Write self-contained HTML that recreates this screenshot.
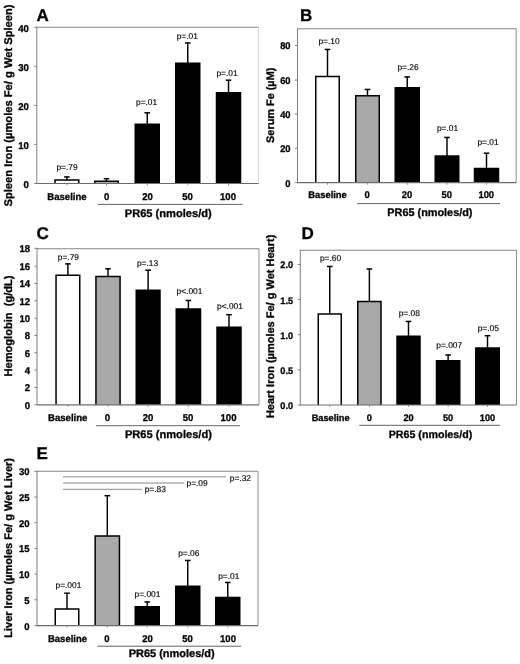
<!DOCTYPE html>
<html><head><meta charset="utf-8"><title>Figure</title>
<style>
html,body{margin:0;padding:0;background:#fff;}
body{width:520px;height:664px;overflow:hidden;}
svg{display:block;}
text{font-family:"Liberation Sans",sans-serif;fill:#000;text-rendering:geometricPrecision;}
.tk{font-weight:bold;font-size:9.9px;stroke:#000;stroke-width:0.3px;}
.pv{font-size:8.4px;fill:#000;stroke:#000;stroke-width:0.15px;}
.ti{font-weight:bold;font-size:11.1px;stroke:#000;stroke-width:0.3px;}
.lt{font-weight:bold;font-size:17px;stroke:#000;stroke-width:0.3px;}
</style></head>
<body>
<svg width="520" height="664" viewBox="0 0 520 664">
<rect x="0" y="0" width="520" height="664" fill="#fff"/>
<defs><filter id="soft" x="0" y="0" width="520" height="664" filterUnits="userSpaceOnUse"><feGaussianBlur stdDeviation="0.4"/></filter></defs>
<g filter="url(#soft)">
<!-- Panel A -->
<g>
<line x1="258.5" y1="27.3" x2="258.5" y2="183.5" stroke="#d9d9d9" stroke-width="1"/>
<line x1="36.8" y1="27.3" x2="258.5" y2="27.3" stroke="#858585" stroke-width="1.1"/>
<line x1="66.88" y1="176.75" x2="66.88" y2="180.25" stroke="#000" stroke-width="1.45"/><line x1="64.08" y1="176.95" x2="69.67" y2="176.95" stroke="#000" stroke-width="1.5"/>
<path d="M55 183.5V180H78.75V183.5" fill="#fff" stroke="#000" stroke-width="1.5"/>
<line x1="106.5" y1="178.5" x2="106.5" y2="181.5" stroke="#000" stroke-width="1.45"/><line x1="103.7" y1="178.7" x2="109.3" y2="178.7" stroke="#000" stroke-width="1.5"/>
<path d="M94.75 183.5V181.25H118.25V183.5" fill="#a9a9a9" stroke="#000" stroke-width="1.5"/>
<line x1="147.25" y1="112.6" x2="147.25" y2="124.5" stroke="#000" stroke-width="1.45"/><line x1="144.45" y1="112.8" x2="150.05" y2="112.8" stroke="#000" stroke-width="1.5"/>
<rect x="134.5" y="123.5" width="25.5" height="60" fill="#000"/>
<line x1="187.75" y1="42.75" x2="187.75" y2="63.5" stroke="#000" stroke-width="1.45"/><line x1="184.95" y1="42.95" x2="190.55" y2="42.95" stroke="#000" stroke-width="1.5"/>
<rect x="175" y="62.5" width="25.5" height="121" fill="#000"/>
<line x1="228.5" y1="80" x2="228.5" y2="93" stroke="#000" stroke-width="1.45"/><line x1="225.7" y1="80.2" x2="231.3" y2="80.2" stroke="#000" stroke-width="1.5"/>
<rect x="215.75" y="92" width="25.5" height="91.5" fill="#000"/>
<line x1="36.8" y1="26.8" x2="36.8" y2="184" stroke="#808080" stroke-width="1"/>
<line x1="36.8" y1="183.5" x2="258.5" y2="183.5" stroke="#6c6c6c" stroke-width="1.2"/>
<line x1="34.2" y1="27.3" x2="36.8" y2="27.3" stroke="#808080" stroke-width="1"/><text class="tk" style="font-size:9.9px" transform="translate(28.8,31.6) scale(0.97,1)" text-anchor="end">40</text>
<line x1="34.2" y1="66.3" x2="36.8" y2="66.3" stroke="#808080" stroke-width="1"/><text class="tk" style="font-size:9.9px" transform="translate(28.8,70.6) scale(0.97,1)" text-anchor="end">30</text>
<line x1="34.2" y1="105.3" x2="36.8" y2="105.3" stroke="#808080" stroke-width="1"/><text class="tk" style="font-size:9.9px" transform="translate(28.8,109.6) scale(0.97,1)" text-anchor="end">20</text>
<line x1="34.2" y1="144.4" x2="36.8" y2="144.4" stroke="#808080" stroke-width="1"/><text class="tk" style="font-size:9.9px" transform="translate(28.8,148.7) scale(0.97,1)" text-anchor="end">10</text>
<line x1="34.2" y1="183.5" x2="36.8" y2="183.5" stroke="#808080" stroke-width="1"/><text class="tk" style="font-size:9.9px" transform="translate(28.8,187.8) scale(0.97,1)" text-anchor="end">0</text>
<line x1="66.88" y1="183.5" x2="66.88" y2="185.5" stroke="#909090" stroke-width="1"/><line x1="106.5" y1="183.5" x2="106.5" y2="185.5" stroke="#909090" stroke-width="1"/><line x1="147.25" y1="183.5" x2="147.25" y2="185.5" stroke="#909090" stroke-width="1"/><line x1="187.75" y1="183.5" x2="187.75" y2="185.5" stroke="#909090" stroke-width="1"/><line x1="228.5" y1="183.5" x2="228.5" y2="185.5" stroke="#909090" stroke-width="1"/>
<text class="tk" style="font-size:9.9px" transform="translate(67,200.35) scale(0.97,1)" text-anchor="middle">Baseline</text>
<text class="tk" style="font-size:9.9px" transform="translate(106.75,200.35) scale(0.97,1)" text-anchor="middle">0</text>
<text class="tk" style="font-size:9.9px" transform="translate(147.5,200.35) scale(0.97,1)" text-anchor="middle">20</text>
<text class="tk" style="font-size:9.9px" transform="translate(187.5,200.35) scale(0.97,1)" text-anchor="middle">50</text>
<text class="tk" style="font-size:9.9px" transform="translate(228,200.35) scale(0.97,1)" text-anchor="middle">100</text>
<line x1="97.8" y1="204.4" x2="242.5" y2="204.4" stroke="#3c3c3c" stroke-width="0.8"/>
<text class="ti" style="font-size:11.1px" x="168.25" y="216.9" text-anchor="middle">PR65 (nmoles/d)</text>
<text class="ti" style="font-size:11.17px" text-anchor="middle" transform="translate(12,105.5) rotate(-90)">Spleen Iron (µmoles Fe/ g Wet Spleen)</text>
<text class="pv" x="67" y="169.7" text-anchor="middle">p=.79</text>
<text class="pv" x="146.6" y="105.2" text-anchor="middle">p=.01</text>
<text class="pv" x="187.25" y="38.95" text-anchor="middle">p=.01</text>
<text class="pv" x="227" y="75.7" text-anchor="middle">p=.01</text>

<text class="lt" x="36.6" y="20.7">A</text>
</g>
<!-- Panel B -->
<g>
<line x1="516.2" y1="28.7" x2="516.2" y2="182.7" stroke="#8c8c8c" stroke-width="1"/>
<line x1="297.5" y1="28.7" x2="516.2" y2="28.7" stroke="#858585" stroke-width="1.1"/>
<line x1="327.5" y1="49.25" x2="327.5" y2="76.75" stroke="#000" stroke-width="1.45"/><line x1="324.7" y1="49.45" x2="330.3" y2="49.45" stroke="#000" stroke-width="1.5"/>
<path d="M315.75 182.7V76.5H339.25V182.7" fill="#fff" stroke="#000" stroke-width="1.5"/>
<line x1="367.5" y1="89.25" x2="367.5" y2="96" stroke="#000" stroke-width="1.45"/><line x1="364.7" y1="89.45" x2="370.3" y2="89.45" stroke="#000" stroke-width="1.5"/>
<path d="M355.75 182.7V95.75H379.25V182.7" fill="#a9a9a9" stroke="#000" stroke-width="1.5"/>
<line x1="407.25" y1="76.75" x2="407.25" y2="88" stroke="#000" stroke-width="1.45"/><line x1="404.45" y1="76.95" x2="410.05" y2="76.95" stroke="#000" stroke-width="1.5"/>
<rect x="394.5" y="87" width="25.5" height="95.7" fill="#000"/>
<line x1="447" y1="137.25" x2="447" y2="156.25" stroke="#000" stroke-width="1.45"/><line x1="444.2" y1="137.45" x2="449.8" y2="137.45" stroke="#000" stroke-width="1.5"/>
<rect x="434.5" y="155.25" width="25" height="27.45" fill="#000"/>
<line x1="486.5" y1="153" x2="486.5" y2="168.75" stroke="#000" stroke-width="1.45"/><line x1="483.7" y1="153.2" x2="489.3" y2="153.2" stroke="#000" stroke-width="1.5"/>
<rect x="473.75" y="167.75" width="25.5" height="14.95" fill="#000"/>
<line x1="297.5" y1="28.2" x2="297.5" y2="183.2" stroke="#808080" stroke-width="1"/>
<line x1="297.5" y1="182.7" x2="516.2" y2="182.7" stroke="#6c6c6c" stroke-width="1.2"/>
<line x1="294.9" y1="45.5" x2="297.5" y2="45.5" stroke="#808080" stroke-width="1"/><text class="tk" style="font-size:9.7px" transform="translate(290.6,49.4) scale(0.97,1)" text-anchor="end">80</text>
<line x1="294.9" y1="80" x2="297.5" y2="80" stroke="#808080" stroke-width="1"/><text class="tk" style="font-size:9.7px" transform="translate(290.6,83.9) scale(0.97,1)" text-anchor="end">60</text>
<line x1="294.9" y1="114" x2="297.5" y2="114" stroke="#808080" stroke-width="1"/><text class="tk" style="font-size:9.7px" transform="translate(290.6,117.9) scale(0.97,1)" text-anchor="end">40</text>
<line x1="294.9" y1="148.2" x2="297.5" y2="148.2" stroke="#808080" stroke-width="1"/><text class="tk" style="font-size:9.7px" transform="translate(290.6,152.1) scale(0.97,1)" text-anchor="end">20</text>
<line x1="294.9" y1="182.7" x2="297.5" y2="182.7" stroke="#808080" stroke-width="1"/><text class="tk" style="font-size:9.7px" transform="translate(290.6,186.6) scale(0.97,1)" text-anchor="end">0</text>
<line x1="327.5" y1="182.7" x2="327.5" y2="184.7" stroke="#909090" stroke-width="1"/><line x1="367.5" y1="182.7" x2="367.5" y2="184.7" stroke="#909090" stroke-width="1"/><line x1="407.25" y1="182.7" x2="407.25" y2="184.7" stroke="#909090" stroke-width="1"/><line x1="447" y1="182.7" x2="447" y2="184.7" stroke="#909090" stroke-width="1"/><line x1="486.5" y1="182.7" x2="486.5" y2="184.7" stroke="#909090" stroke-width="1"/>
<text class="tk" style="font-size:9.7px" transform="translate(327.5,198.2) scale(0.97,1)" text-anchor="middle">Baseline</text>
<text class="tk" style="font-size:9.7px" transform="translate(367,198.2) scale(0.97,1)" text-anchor="middle">0</text>
<text class="tk" style="font-size:9.7px" transform="translate(407,198.2) scale(0.97,1)" text-anchor="middle">20</text>
<text class="tk" style="font-size:9.7px" transform="translate(446.75,198.2) scale(0.97,1)" text-anchor="middle">50</text>
<text class="tk" style="font-size:9.7px" transform="translate(486.25,198.2) scale(0.97,1)" text-anchor="middle">100</text>
<line x1="357" y1="203.6" x2="500" y2="203.6" stroke="#3c3c3c" stroke-width="0.8"/>
<text class="ti" style="font-size:10.88px" x="429.9" y="216.35" text-anchor="middle">PR65 (nmoles/d)</text>
<text class="ti" style="font-size:10.9px" text-anchor="middle" transform="translate(273.7,105.3) rotate(-90)">Serum Fe (µM)</text>
<text class="pv" x="329" y="43.7" text-anchor="middle">p=.10</text>
<text class="pv" x="408" y="69.7" text-anchor="middle">p=.26</text>
<text class="pv" x="447.5" y="131.2" text-anchor="middle">p=.01</text>
<text class="pv" x="488" y="145.45" text-anchor="middle">p=.01</text>

<text class="lt" x="300" y="20.7">B</text>
</g>
<!-- Panel C -->
<g>
<line x1="259" y1="248.7" x2="259" y2="404.8" stroke="#909090" stroke-width="1"/>
<line x1="37" y1="248.7" x2="259" y2="248.7" stroke="#858585" stroke-width="1.1"/>
<line x1="67.9" y1="263.7" x2="67.9" y2="275.6" stroke="#000" stroke-width="1.45"/><line x1="65.1" y1="263.9" x2="70.7" y2="263.9" stroke="#000" stroke-width="1.5"/>
<path d="M56.05 404.8V275.35H79.75V404.8" fill="#fff" stroke="#000" stroke-width="1.5"/>
<line x1="108" y1="268.6" x2="108" y2="276.8" stroke="#000" stroke-width="1.45"/><line x1="105.2" y1="268.8" x2="110.8" y2="268.8" stroke="#000" stroke-width="1.5"/>
<path d="M95.95 404.8V276.55H120.05V404.8" fill="#a9a9a9" stroke="#000" stroke-width="1.5"/>
<line x1="148.12" y1="270" x2="148.12" y2="290.5" stroke="#000" stroke-width="1.45"/><line x1="145.32" y1="270.2" x2="150.93" y2="270.2" stroke="#000" stroke-width="1.5"/>
<rect x="135.5" y="289.5" width="25.25" height="115.3" fill="#000"/>
<line x1="188.38" y1="300.25" x2="188.38" y2="309.25" stroke="#000" stroke-width="1.45"/><line x1="185.57" y1="300.45" x2="191.18" y2="300.45" stroke="#000" stroke-width="1.5"/>
<rect x="175.5" y="308.25" width="25.75" height="96.55" fill="#000"/>
<line x1="229" y1="314.5" x2="229" y2="327.5" stroke="#000" stroke-width="1.45"/><line x1="226.2" y1="314.7" x2="231.8" y2="314.7" stroke="#000" stroke-width="1.5"/>
<rect x="216.25" y="326.5" width="25.5" height="78.3" fill="#000"/>
<line x1="37" y1="248.2" x2="37" y2="405.3" stroke="#808080" stroke-width="1"/>
<line x1="37" y1="404.8" x2="259" y2="404.8" stroke="#6c6c6c" stroke-width="1.2"/>
<line x1="34.4" y1="248.3" x2="37" y2="248.3" stroke="#808080" stroke-width="1"/><text class="tk" style="font-size:9.9px" transform="translate(30.1,252.2) scale(0.97,1)" text-anchor="end">18</text>
<line x1="34.4" y1="266.2" x2="37" y2="266.2" stroke="#808080" stroke-width="1"/><text class="tk" style="font-size:9.9px" transform="translate(30.1,270.1) scale(0.97,1)" text-anchor="end">16</text>
<line x1="34.4" y1="283.4" x2="37" y2="283.4" stroke="#808080" stroke-width="1"/><text class="tk" style="font-size:9.9px" transform="translate(30.1,287.3) scale(0.97,1)" text-anchor="end">14</text>
<line x1="34.4" y1="300.8" x2="37" y2="300.8" stroke="#808080" stroke-width="1"/><text class="tk" style="font-size:9.9px" transform="translate(30.1,304.7) scale(0.97,1)" text-anchor="end">12</text>
<line x1="34.4" y1="318.2" x2="37" y2="318.2" stroke="#808080" stroke-width="1"/><text class="tk" style="font-size:9.9px" transform="translate(30.1,322.1) scale(0.97,1)" text-anchor="end">10</text>
<line x1="34.4" y1="335.5" x2="37" y2="335.5" stroke="#808080" stroke-width="1"/><text class="tk" style="font-size:9.9px" transform="translate(30.1,339.4) scale(0.97,1)" text-anchor="end">8</text>
<line x1="34.4" y1="352.8" x2="37" y2="352.8" stroke="#808080" stroke-width="1"/><text class="tk" style="font-size:9.9px" transform="translate(30.1,356.7) scale(0.97,1)" text-anchor="end">6</text>
<line x1="34.4" y1="370.1" x2="37" y2="370.1" stroke="#808080" stroke-width="1"/><text class="tk" style="font-size:9.9px" transform="translate(30.1,374) scale(0.97,1)" text-anchor="end">4</text>
<line x1="34.4" y1="387.4" x2="37" y2="387.4" stroke="#808080" stroke-width="1"/><text class="tk" style="font-size:9.9px" transform="translate(30.1,391.3) scale(0.97,1)" text-anchor="end">2</text>
<line x1="34.4" y1="404.8" x2="37" y2="404.8" stroke="#808080" stroke-width="1"/><text class="tk" style="font-size:9.9px" transform="translate(30.1,408.7) scale(0.97,1)" text-anchor="end">0</text>
<line x1="67.9" y1="404.8" x2="67.9" y2="406.8" stroke="#909090" stroke-width="1"/><line x1="108" y1="404.8" x2="108" y2="406.8" stroke="#909090" stroke-width="1"/><line x1="148.12" y1="404.8" x2="148.12" y2="406.8" stroke="#909090" stroke-width="1"/><line x1="188.38" y1="404.8" x2="188.38" y2="406.8" stroke="#909090" stroke-width="1"/><line x1="229" y1="404.8" x2="229" y2="406.8" stroke="#909090" stroke-width="1"/>
<text class="tk" style="font-size:9.9px" transform="translate(67.75,420.9) scale(0.97,1)" text-anchor="middle">Baseline</text>
<text class="tk" style="font-size:9.9px" transform="translate(107.5,420.9) scale(0.97,1)" text-anchor="middle">0</text>
<text class="tk" style="font-size:9.9px" transform="translate(148,420.9) scale(0.97,1)" text-anchor="middle">20</text>
<text class="tk" style="font-size:9.9px" transform="translate(188,420.9) scale(0.97,1)" text-anchor="middle">50</text>
<text class="tk" style="font-size:9.9px" transform="translate(228.5,420.9) scale(0.97,1)" text-anchor="middle">100</text>
<line x1="96" y1="425.7" x2="240" y2="425.7" stroke="#3c3c3c" stroke-width="0.8"/>
<text class="ti" style="font-size:11.1px" x="168.4" y="437.8" text-anchor="middle">PR65 (nmoles/d)</text>
<text class="ti" style="font-size:11.1px" text-anchor="middle" transform="translate(11.8,326) rotate(-90)">Hemoglobin  (g/dL)</text>
<text class="pv" x="68.4" y="259.5" text-anchor="middle">p=.79</text>
<text class="pv" x="147.5" y="265.95" text-anchor="middle">p=.13</text>
<text class="pv" x="189.5" y="294.2" text-anchor="middle">p&lt;.001</text>
<text class="pv" x="230" y="309.2" text-anchor="middle">p&lt;.001</text>

<text class="lt" x="36.5" y="239">C</text>
</g>
<!-- Panel D -->
<g>
<line x1="516.5" y1="250.2" x2="516.5" y2="405" stroke="#8c8c8c" stroke-width="1"/>
<line x1="300.3" y1="250.2" x2="516.5" y2="250.2" stroke="#858585" stroke-width="1.1"/>
<line x1="329.75" y1="266.25" x2="329.75" y2="314.25" stroke="#000" stroke-width="1.45"/><line x1="326.95" y1="266.45" x2="332.55" y2="266.45" stroke="#000" stroke-width="1.5"/>
<path d="M318.25 405V314H341.25V405" fill="#fff" stroke="#000" stroke-width="1.5"/>
<line x1="369.38" y1="268.75" x2="369.38" y2="301.75" stroke="#000" stroke-width="1.45"/><line x1="366.57" y1="268.95" x2="372.18" y2="268.95" stroke="#000" stroke-width="1.5"/>
<path d="M357.75 405V301.5H381V405" fill="#a9a9a9" stroke="#000" stroke-width="1.5"/>
<line x1="408.5" y1="321.25" x2="408.5" y2="336.5" stroke="#000" stroke-width="1.45"/><line x1="405.7" y1="321.45" x2="411.3" y2="321.45" stroke="#000" stroke-width="1.5"/>
<rect x="396.25" y="335.5" width="24.5" height="69.5" fill="#000"/>
<line x1="448.12" y1="354.75" x2="448.12" y2="361" stroke="#000" stroke-width="1.45"/><line x1="445.32" y1="354.95" x2="450.93" y2="354.95" stroke="#000" stroke-width="1.5"/>
<rect x="435.75" y="360" width="24.75" height="45" fill="#000"/>
<line x1="487.5" y1="335.5" x2="487.5" y2="348.25" stroke="#000" stroke-width="1.45"/><line x1="484.7" y1="335.7" x2="490.3" y2="335.7" stroke="#000" stroke-width="1.5"/>
<rect x="475" y="347.25" width="25" height="57.75" fill="#000"/>
<line x1="300.3" y1="249.7" x2="300.3" y2="405.5" stroke="#808080" stroke-width="1"/>
<line x1="300.3" y1="405" x2="516.5" y2="405" stroke="#6c6c6c" stroke-width="1.2"/>
<line x1="297.7" y1="264.5" x2="300.3" y2="264.5" stroke="#808080" stroke-width="1"/><text class="tk" style="font-size:9.5px" transform="translate(293.1,268.4) scale(0.97,1)" text-anchor="end">2.0</text>
<line x1="297.7" y1="299.6" x2="300.3" y2="299.6" stroke="#808080" stroke-width="1"/><text class="tk" style="font-size:9.5px" transform="translate(293.1,303.5) scale(0.97,1)" text-anchor="end">1.5</text>
<line x1="297.7" y1="334.7" x2="300.3" y2="334.7" stroke="#808080" stroke-width="1"/><text class="tk" style="font-size:9.5px" transform="translate(293.1,338.6) scale(0.97,1)" text-anchor="end">1.0</text>
<line x1="297.7" y1="369.8" x2="300.3" y2="369.8" stroke="#808080" stroke-width="1"/><text class="tk" style="font-size:9.5px" transform="translate(293.1,373.7) scale(0.97,1)" text-anchor="end">0.5</text>
<line x1="297.7" y1="405" x2="300.3" y2="405" stroke="#808080" stroke-width="1"/><text class="tk" style="font-size:9.5px" transform="translate(293.1,408.9) scale(0.97,1)" text-anchor="end">0.0</text>
<line x1="329.75" y1="405" x2="329.75" y2="407" stroke="#909090" stroke-width="1"/><line x1="369.38" y1="405" x2="369.38" y2="407" stroke="#909090" stroke-width="1"/><line x1="408.5" y1="405" x2="408.5" y2="407" stroke="#909090" stroke-width="1"/><line x1="448.12" y1="405" x2="448.12" y2="407" stroke="#909090" stroke-width="1"/><line x1="487.5" y1="405" x2="487.5" y2="407" stroke="#909090" stroke-width="1"/>
<text class="tk" style="font-size:9.5px" transform="translate(330.6,420.8) scale(0.97,1)" text-anchor="middle">Baseline</text>
<text class="tk" style="font-size:9.5px" transform="translate(369.25,420.8) scale(0.97,1)" text-anchor="middle">0</text>
<text class="tk" style="font-size:9.5px" transform="translate(408.5,420.8) scale(0.97,1)" text-anchor="middle">20</text>
<text class="tk" style="font-size:9.5px" transform="translate(448,420.8) scale(0.97,1)" text-anchor="middle">50</text>
<text class="tk" style="font-size:9.5px" transform="translate(487.5,420.8) scale(0.97,1)" text-anchor="middle">100</text>
<line x1="359.25" y1="425.3" x2="500" y2="425.3" stroke="#3c3c3c" stroke-width="0.8"/>
<text class="ti" style="font-size:10.66px" x="430.5" y="437.8" text-anchor="middle">PR65 (nmoles/d)</text>
<text class="ti" style="font-size:11.0px" text-anchor="middle" transform="translate(274.4,326.4) rotate(-90)">Heart Iron (µmoles Fe/ g Wet Heart)</text>
<text class="pv" x="330.5" y="261.45" text-anchor="middle">p=.60</text>
<text class="pv" x="409.25" y="316.45" text-anchor="middle">p=.08</text>
<text class="pv" x="449.25" y="348.2" text-anchor="middle">p=.007</text>
<text class="pv" x="488.25" y="330.95" text-anchor="middle">p=.05</text>

<text class="lt" x="301.5" y="238.8">D</text>
</g>
<!-- Panel E -->
<g>
<line x1="258" y1="471.3" x2="258" y2="625.6" stroke="#8c8c8c" stroke-width="1"/>
<line x1="37" y1="471.3" x2="258" y2="471.3" stroke="#858585" stroke-width="1.1"/>
<line x1="67" y1="593" x2="67" y2="609.2" stroke="#000" stroke-width="1.45"/><line x1="64.2" y1="593.2" x2="69.8" y2="593.2" stroke="#000" stroke-width="1.5"/>
<path d="M55.25 625.6V608.95H78.75V625.6" fill="#fff" stroke="#000" stroke-width="1.5"/>
<line x1="107.3" y1="495.5" x2="107.3" y2="536.2" stroke="#000" stroke-width="1.45"/><line x1="104.5" y1="495.7" x2="110.1" y2="495.7" stroke="#000" stroke-width="1.5"/>
<path d="M95.15 625.6V535.95H119.45V625.6" fill="#a9a9a9" stroke="#000" stroke-width="1.5"/>
<line x1="147.25" y1="601.75" x2="147.25" y2="607" stroke="#000" stroke-width="1.45"/><line x1="144.45" y1="601.95" x2="150.05" y2="601.95" stroke="#000" stroke-width="1.5"/>
<rect x="134.5" y="606" width="25.5" height="19.6" fill="#000"/>
<line x1="187.75" y1="560.25" x2="187.75" y2="586.5" stroke="#000" stroke-width="1.45"/><line x1="184.95" y1="560.45" x2="190.55" y2="560.45" stroke="#000" stroke-width="1.5"/>
<rect x="175" y="585.5" width="25.5" height="40.1" fill="#000"/>
<line x1="227.75" y1="582.25" x2="227.75" y2="597.75" stroke="#000" stroke-width="1.45"/><line x1="224.95" y1="582.45" x2="230.55" y2="582.45" stroke="#000" stroke-width="1.5"/>
<rect x="215" y="596.75" width="25.5" height="28.85" fill="#000"/>
<line x1="37" y1="470.8" x2="37" y2="626.1" stroke="#808080" stroke-width="1"/>
<line x1="37" y1="625.6" x2="258" y2="625.6" stroke="#6c6c6c" stroke-width="1.2"/>
<line x1="34.4" y1="471.3" x2="37" y2="471.3" stroke="#808080" stroke-width="1"/><text class="tk" style="font-size:9.8px" transform="translate(29.6,475.2) scale(0.97,1)" text-anchor="end">30</text>
<line x1="34.4" y1="497" x2="37" y2="497" stroke="#808080" stroke-width="1"/><text class="tk" style="font-size:9.8px" transform="translate(29.6,500.9) scale(0.97,1)" text-anchor="end">25</text>
<line x1="34.4" y1="522.7" x2="37" y2="522.7" stroke="#808080" stroke-width="1"/><text class="tk" style="font-size:9.8px" transform="translate(29.6,526.6) scale(0.97,1)" text-anchor="end">20</text>
<line x1="34.4" y1="548.4" x2="37" y2="548.4" stroke="#808080" stroke-width="1"/><text class="tk" style="font-size:9.8px" transform="translate(29.6,552.3) scale(0.97,1)" text-anchor="end">15</text>
<line x1="34.4" y1="574.1" x2="37" y2="574.1" stroke="#808080" stroke-width="1"/><text class="tk" style="font-size:9.8px" transform="translate(29.6,578) scale(0.97,1)" text-anchor="end">10</text>
<line x1="34.4" y1="599.8" x2="37" y2="599.8" stroke="#808080" stroke-width="1"/><text class="tk" style="font-size:9.8px" transform="translate(29.6,603.7) scale(0.97,1)" text-anchor="end">5</text>
<line x1="34.4" y1="625.6" x2="37" y2="625.6" stroke="#808080" stroke-width="1"/><text class="tk" style="font-size:9.8px" transform="translate(29.6,629.5) scale(0.97,1)" text-anchor="end">0</text>
<line x1="67" y1="625.6" x2="67" y2="627.6" stroke="#909090" stroke-width="1"/><line x1="107.3" y1="625.6" x2="107.3" y2="627.6" stroke="#909090" stroke-width="1"/><line x1="147.25" y1="625.6" x2="147.25" y2="627.6" stroke="#909090" stroke-width="1"/><line x1="187.75" y1="625.6" x2="187.75" y2="627.6" stroke="#909090" stroke-width="1"/><line x1="227.75" y1="625.6" x2="227.75" y2="627.6" stroke="#909090" stroke-width="1"/>
<text class="tk" style="font-size:9.8px" transform="translate(67.5,642.3) scale(0.97,1)" text-anchor="middle">Baseline</text>
<text class="tk" style="font-size:9.8px" transform="translate(107,642.3) scale(0.97,1)" text-anchor="middle">0</text>
<text class="tk" style="font-size:9.8px" transform="translate(147.5,642.3) scale(0.97,1)" text-anchor="middle">20</text>
<text class="tk" style="font-size:9.8px" transform="translate(187.5,642.3) scale(0.97,1)" text-anchor="middle">50</text>
<text class="tk" style="font-size:9.8px" transform="translate(228,642.3) scale(0.97,1)" text-anchor="middle">100</text>
<line x1="97.5" y1="646.2" x2="241.25" y2="646.2" stroke="#3c3c3c" stroke-width="0.8"/>
<text class="ti" style="font-size:10.99px" x="171.7" y="657.4" text-anchor="middle">PR65 (nmoles/d)</text>
<text class="ti" style="font-size:11.0px" text-anchor="middle" transform="translate(11.8,547.9) rotate(-90)">Liver Iron (µmoles Fe/ g Wet Liver)</text>
<text class="pv" x="68.4" y="587.7" text-anchor="middle">p=.001</text>
<text class="pv" x="147.5" y="596.95" text-anchor="middle">p=.001</text>
<text class="pv" x="188.75" y="555.7" text-anchor="middle">p=.06</text>
<text class="pv" x="228.75" y="579.45" text-anchor="middle">p=.01</text>
<text class="pv" x="155.25" y="492.2" text-anchor="middle">p=.83</text>
<text class="pv" x="197.1" y="486.45" text-anchor="middle">p=.09</text>
<text class="pv" x="240.4" y="480.7" text-anchor="middle">p=.32</text>
<g stroke="#8a8a8a" stroke-width="1"><line x1="63" x2="226" y1="476.8" y2="476.8"/><line x1="63" x2="184.3" y1="483" y2="483"/><line x1="63" x2="141.8" y1="489.3" y2="489.3"/></g>
<text class="lt" x="36.5" y="459.1">E</text>
</g>
</g>
</svg>
</body></html>
